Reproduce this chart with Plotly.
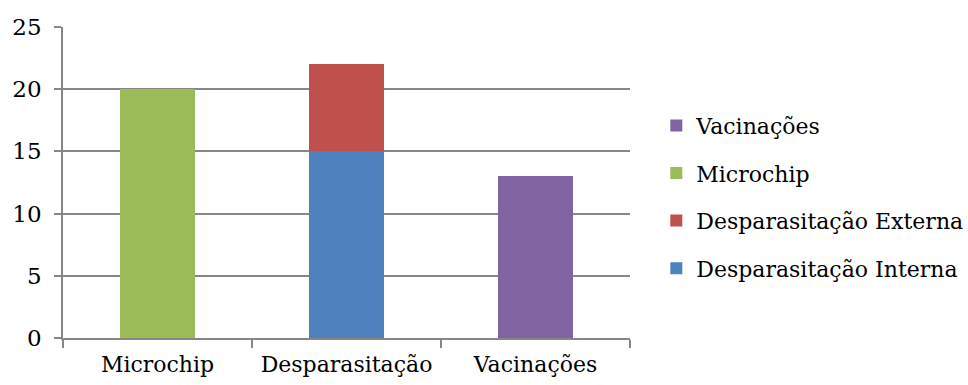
import plotly.graph_objects as go

# Categories on the x axis
categories = ["Microchip", "Desparasitação", "Vacinações"]

# Stacked series (None where the series has no bar)
interna = [None, 15, None]
externa = [None, 7, None]
microchip = [20, None, None]
vacinacoes = [None, None, 13]

# name, values, colour, position in the legend
series = [
    ("Desparasitação Interna", interna, "#4F81BD", 4),
    ("Desparasitação Externa", externa, "#C0504D", 3),
    ("Microchip", microchip, "#9BBB59", 2),
    ("Vacinações", vacinacoes, "#8064A2", 1),
]

font_family = "DejaVu Serif"
grid_color = "#878787"

fig = go.Figure()
for i, (name, vals, color, rank) in enumerate(series):
    fig.add_trace(go.Bar(
        x=categories, y=vals, name=name,
        marker=dict(color=color, line=dict(width=0)),
        legendgroup=f"g{i}",
        legendrank=rank,
    ))

fig.update_layout(
    barmode="stack",
    bargap=0.6,
    width=968, height=385,
    margin=dict(l=63, r=338, t=27, b=47, autoexpand=False),
    paper_bgcolor="white",
    plot_bgcolor="white",
    font=dict(family=font_family, size=22, color="#000000"),
    legend=dict(
        xref="container", yref="container",
        x=0.678, y=0.488, xanchor="left", yanchor="middle",
        traceorder="grouped",
        tracegroupgap=16,
        font=dict(family=font_family, size=22),
        itemwidth=30,
    ),
    xaxis=dict(
        automargin=False,
        showline=True, linecolor=grid_color, linewidth=1.5,
        ticks="outside", tickson="boundaries", ticklen=8,
        tickcolor=grid_color, tickwidth=1.5,
        tickfont=dict(family=font_family, size=22),
        ticklabelstandoff=6,
    ),
    yaxis=dict(
        automargin=False,
        range=[0, 25], dtick=5,
        showgrid=True, gridcolor=grid_color, gridwidth=1.5,
        showline=True, linecolor=grid_color, linewidth=1.5,
        ticks="outside", ticklen=7, tickcolor=grid_color, tickwidth=1.5,
        zeroline=False,
        tickfont=dict(family=font_family, size=23),
        ticklabelstandoff=8,
    ),
)

fig.write_html("out.html")
